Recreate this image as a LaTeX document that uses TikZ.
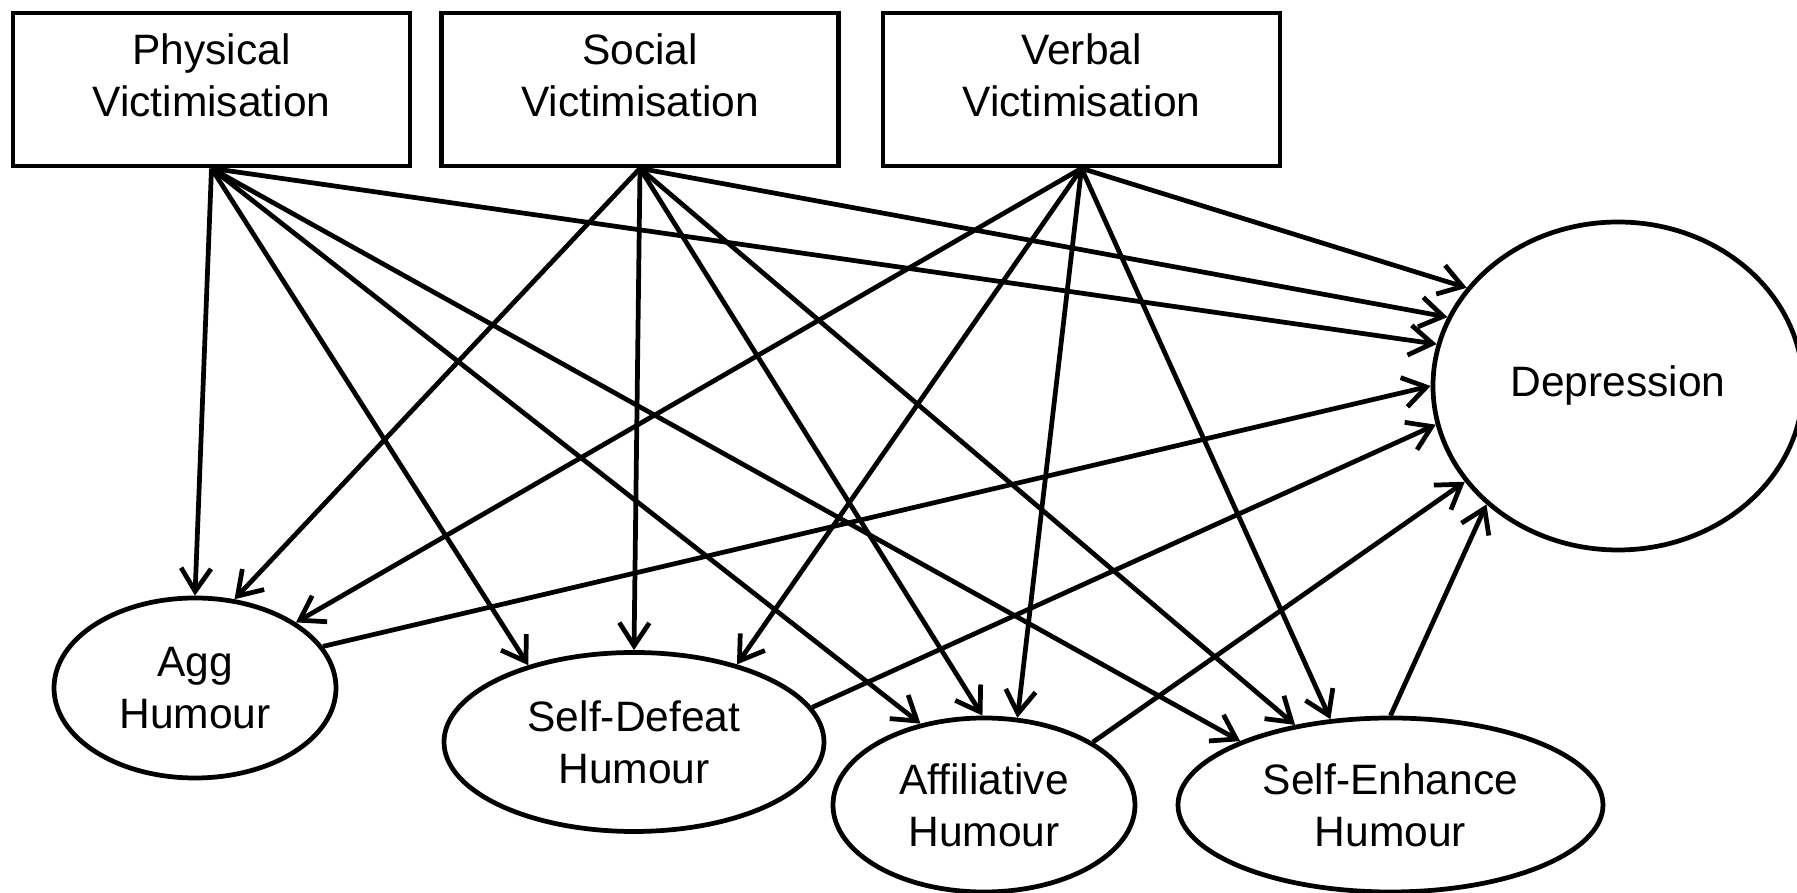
\documentclass[tikz,border=0pt]{standalone}
\usepackage{fontspec}
\setmainfont{Liberation Sans}
\usetikzlibrary{shapes.geometric,arrows.meta}
\begin{document}
\begin{tikzpicture}[
  box/.style={rectangle,draw,line width=1.35pt,minimum width=3.97cm,minimum height=1.53cm,align=center,text depth=0.28cm,font=\fontsize{12.1}{14.8}\selectfont},
  hum/.style={ellipse,draw,line width=1.35pt,align=center,inner sep=0pt,font=\fontsize{12.1}{14.8}\selectfont},
  link/.style={line width=1.35pt,-{Straight Barb[length=0.23cm,width=0.3cm]}}]
\useasboundingbox (0,0) rectangle (17.97,-8.93);
\node[box] (phys) at (2.115,-0.895) {Physical\\Victimisation};
\node[box] (soc) at (6.40,-0.895) {Social\\Victimisation};
\node[box] (verb) at (10.815,-0.895) {Verbal\\Victimisation};
\node[hum,minimum width=3.70cm,minimum height=3.28cm] (dep) at (16.18,-3.86) {Depression};
\node[hum,minimum width=2.82cm,minimum height=1.80cm] (agg) at (1.95,-6.88) {Agg\\Humour};
\node[hum,minimum width=3.80cm,minimum height=1.79cm] (sd) at (6.34,-7.42) {Self-Defeat\\Humour};
\node[hum,minimum width=3.02cm,minimum height=1.74cm] (aff) at (9.84,-8.05) {Affiliative\\Humour};
\node[hum,minimum width=4.25cm,minimum height=1.74cm] (se) at (13.905,-8.05) {Self-Enhance\\Humour};

\draw[link] (phys.south) -- (agg.90);
\draw[link] (phys.south) -- (sd.144);
\draw[link] (phys.south) -- (aff.128);
\draw[link] (phys.south) -- (se.157);
\draw[link] (phys.south) -- (dep.167);

\draw[link] (soc.south) -- (agg.66);
\draw[link] (soc.south) -- (sd.90);
\draw[link] (soc.south) -- (aff.91);
\draw[link] (soc.south) -- (se.140);
\draw[link] (soc.south) -- (dep.158);

\draw[link] (verb.south) -- (agg.33);
\draw[link] (verb.south) -- (sd.37);
\draw[link] (verb.south) -- (aff.69);
\draw[link] (verb.south) -- (se.125);
\draw[link] (verb.south) -- (dep.147);

\draw[link] (agg.18) -- (dep.180);
\draw[link] (sd.11) -- (dep.192);
\draw[link] (aff.30) -- (dep.212);
\draw[link] (se.90) -- (dep.222);
\end{tikzpicture}
\end{document}
